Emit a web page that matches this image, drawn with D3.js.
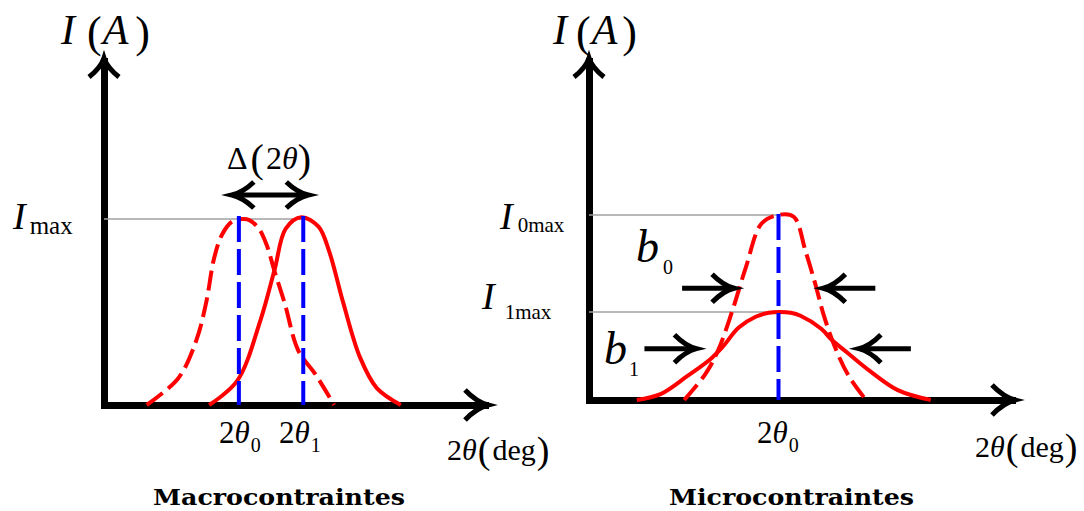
<!DOCTYPE html>
<html>
<head>
<meta charset="utf-8">
<script src="https://cdn.jsdelivr.net/npm/d3@7"></script>
<style>
  body { margin: 0; background: #fff; }
  svg { display: block; }
  text { font-family: "Liberation Serif", "Times New Roman", serif; fill: #000; }
</style>
</head>
<body>
<div id="chart"></div>
<script>
// peak profiles: [2θ (arbitrary units), intensity (Imax = 100)]
const macroPeak0 = [[11.2,0],[19.5,14.4],[24.2,34.6],[26.8,54.9],[28.9,78.9],[31.0,91.7],[33.6,98.6],
  [36.2,100],[38.0,99.6],[40.6,95.0],[42.8,85.5],[44.6,73.0],[47.4,54.9],[51.0,29.3],[55.5,16.5],[60.4,0]];
const macroPeak1 = [[27.6,0],[34.9,12.8],[41.1,45.8],[44.8,73.0],[47.7,94.9],[51.8,101],[56.3,95.9],
  [59.1,82.6],[62.8,54.9],[67.2,25.6],[71.6,9.1],[77.9,0]];
const macroTheta = [35.4, 52.3];   // 2θ0, 2θ1
const macroImax = 100;

const microPeak0 = [[22.5,0],[27.5,14.1],[30.5,27.0],[33.8,48.1],[37.1,72.5],[40.8,96.3],[44.8,101],
  [48.4,100],[51.2,81.1],[53.5,63.3],[55.4,47.0],[58.0,29.7],[61.3,13.5],[65.5,0]];
const microPeak1 = [[11.3,0],[16.9,3.2],[23.2,13.0],[28.9,22.7],[31.5,28.7],[35.4,39.5],[39.4,45.4],
  [42.5,47.6],[45.1,48],[47.7,47.6],[50.0,46.0],[54.9,38.9],[57.3,33.0],[61.3,25.4],[66.2,16.2],[73.0,5.4],[80.8,0]];
const microTheta = 44.8;
const microImax = [101, 48];       // I0max, I1max
const widthLevels = [61, 28];      // where b0, b1 are marked
const widthSpans = [[34.3, 55.4], [25.4, 63.8]];

const W = 1084, H = 511;
const svg = d3.select("#chart").append("svg").attr("width", W).attr("height", H);

const xL = d3.scaleLinear().domain([0, 100]).range([104, 485]);
const yL = d3.scaleLinear().domain([0, 185]).range([405, 61]);
const xR = d3.scaleLinear().domain([0, 100]).range([589, 1012]);
const yR = d3.scaleLinear().domain([0, 185]).range([400, 61]);

function arrowHead(g, tx, ty, dx, dy, len, half, sw) {
  const nx = -dy, ny = dx;
  const bx = tx - len * dx, by = ty - len * dy;
  const cx = tx - 0.5 * len * dx, cy = ty - 0.5 * len * dy;
  const p = d3.path();
  p.moveTo(bx + half * nx, by + half * ny);
  p.quadraticCurveTo(cx + 0.2 * half * nx, cy + 0.2 * half * ny, tx, ty);
  p.quadraticCurveTo(cx - 0.2 * half * nx, cy - 0.2 * half * ny, bx - half * nx, by - half * ny);
  g.append("path").attr("d", p.toString()).attr("fill", "none").attr("stroke", "#000")
    .attr("stroke-width", sw).attr("stroke-linejoin", "miter").attr("stroke-miterlimit", 10);
}

function drawAxes(x, y) {
  const gx = svg.append("g").attr("transform", `translate(0,${y(0)})`)
    .call(d3.axisBottom(x).tickValues([]).tickSizeOuter(0));
  const gy = svg.append("g").attr("transform", `translate(${x(0)},0)`)
    .call(d3.axisLeft(y).tickValues([]).tickSizeOuter(0));
  [gx, gy].forEach(g => g.select(".domain").attr("stroke", "#000").attr("stroke-width", 7)
    .attr("stroke-linecap", "square"));
  arrowHead(svg, x.range()[1] + 3, y(0), 1, 0, 23, 15, 5);
  arrowHead(svg, x(0), y.range()[1] - 3, 0, -1, 19, 15, 5);
}

// place pieces of a math label one after another: [text, size, italic, dx, dy]
function label(x0, y0, parts) {
  let cx = x0;
  parts.forEach(([str, size, italic, dx = 0, dy = 0]) => {
    const t = svg.append("text").attr("x", cx + dx).attr("y", y0 + dy)
      .attr("font-size", size).text(str);
    if (italic) t.attr("font-style", "italic");
    cx = cx + dx + t.node().getComputedTextLength();
  });
}

const line = (x, y) => d3.line().x(d => x(d[0])).y(d => y(d[1])).curve(d3.curveCatmullRom.alpha(0.5));

// ---------- left panel: Macrocontraintes ----------
drawAxes(xL, yL);
svg.append("line").attr("x1", xL(0)).attr("x2", xL(macroTheta[1]))
  .attr("y1", yL(macroImax)).attr("y2", yL(macroImax)).attr("stroke", "#a0a0a0").attr("stroke-width", 1.5);

svg.append("path").datum(macroPeak0).attr("d", line(xL, yL)).attr("fill", "none")
  .attr("stroke", "#ff0000").attr("stroke-width", 4).attr("stroke-dasharray", "20,7");
svg.append("path").datum(macroPeak1).attr("d", line(xL, yL)).attr("fill", "none")
  .attr("stroke", "#ff0000").attr("stroke-width", 4);

svg.selectAll(".blueL").data(macroTheta).enter().append("line")
  .attr("x1", d => xL(d)).attr("x2", d => xL(d))
  .attr("y1", yL(macroImax) - 3).attr("y2", yL(0))
  .attr("stroke", "#0000ff").attr("stroke-width", 4).attr("stroke-dasharray", "26,7");

// Δ(2θ) double arrow
const dy0 = yL(macroImax) - 24;
const dxa = xL(macroTheta[0]) - 7, dxb = xL(macroTheta[1]) + 5;
svg.append("line").attr("x1", dxa + 4).attr("x2", dxb - 4).attr("y1", dy0).attr("y2", dy0)
  .attr("stroke", "#000").attr("stroke-width", 5);
arrowHead(svg, dxa, dy0, -1, 0, 22, 13, 5);
arrowHead(svg, dxb, dy0, 1, 0, 22, 13, 5);

label(227, 169, [["Δ", 32, false], ["(", 40, false, 3, 3], ["2", 32, false, 2], ["θ", 32, true], [")", 40, false, 0, 3]]);

label(61, 44, [["I", 42, true], ["(", 44, false, 12, 3], ["A", 42, true, 1], [")", 44, false, 7, 3]]);
label(13, 229, [["I", 38, true], ["max", 25, false, 4, 5]]);

label(219, 443, [["2", 31, false], ["θ", 31, true], ["0", 20, false, 1, 9]]);
label(279, 443, [["2", 31, false], ["θ", 31, true], ["1", 20, false, 1, 9]]);

label(447, 460, [["2", 30, false], ["θ", 30, true], ["(", 38, false, 1, 3], ["deg", 30, false, 2], [")", 38, false, 1, 3]]);

svg.append("text").attr("x", 153).attr("y", 505).attr("font-size", 23).attr("font-weight", "bold")
  .style("font-family", "'DejaVu Serif', serif").attr("textLength", 252).attr("lengthAdjust", "spacingAndGlyphs")
  .text("Macrocontraintes");

// ---------- right panel: Microcontraintes ----------
drawAxes(xR, yR);
microImax.forEach(v => {
  svg.append("line").attr("x1", xR(0)).attr("x2", xR(microTheta))
    .attr("y1", yR(v)).attr("y2", yR(v)).attr("stroke", "#a0a0a0").attr("stroke-width", 1.5);
});

svg.append("path").datum(microPeak0).attr("d", line(xR, yR)).attr("fill", "none")
  .attr("stroke", "#ff0000").attr("stroke-width", 4).attr("stroke-dasharray", "20,7");
svg.append("path").datum(microPeak1).attr("d", line(xR, yR)).attr("fill", "none")
  .attr("stroke", "#ff0000").attr("stroke-width", 4);

svg.append("line").attr("x1", xR(microTheta)).attr("x2", xR(microTheta))
  .attr("y1", yR(microImax[0]) - 1).attr("y2", yR(0))
  .attr("stroke", "#0000ff").attr("stroke-width", 4).attr("stroke-dasharray", "26,7");

// width arrows b0, b1
widthSpans.forEach((s, i) => {
  const yy = yR(widthLevels[i]);
  const l = xR(s[0]), r = xR(s[1]);
  svg.append("line").attr("x1", l - 52).attr("x2", l - 4).attr("y1", yy).attr("y2", yy)
    .attr("stroke", "#000").attr("stroke-width", 5);
  arrowHead(svg, l, yy, 1, 0, 22, 14, 5);
  svg.append("line").attr("x1", r + 4).attr("x2", r + 52).attr("y1", yy).attr("y2", yy)
    .attr("stroke", "#000").attr("stroke-width", 5);
  arrowHead(svg, r, yy, -1, 0, 22, 14, 5);
});

label(553, 44, [["I", 42, true], ["(", 44, false, 9, 3], ["A", 42, true, 1], [")", 44, false, 5, 3]]);

label(500, 229, [["I", 38, true], ["0max", 21, false, 5, 3]]);
label(482, 309, [["I", 38, true], ["1max", 21, false, 10, 10]]);

label(636, 262, [["b", 46, true], ["0", 20, false, 4, 12]]);
label(604, 364, [["b", 46, true], ["1", 20, false, 2, 12]]);

label(757, 443, [["2", 31, false], ["θ", 31, true], ["0", 20, false, 1, 9]]);

label(975, 457, [["2", 30, false], ["θ", 30, true], ["(", 38, false, 1, 3], ["deg", 30, false, 2], [")", 38, false, 1, 3]]);

svg.append("text").attr("x", 669).attr("y", 505).attr("font-size", 23).attr("font-weight", "bold")
  .style("font-family", "'DejaVu Serif', serif").attr("textLength", 245).attr("lengthAdjust", "spacingAndGlyphs")
  .text("Microcontraintes");
</script>
</body>
</html>
